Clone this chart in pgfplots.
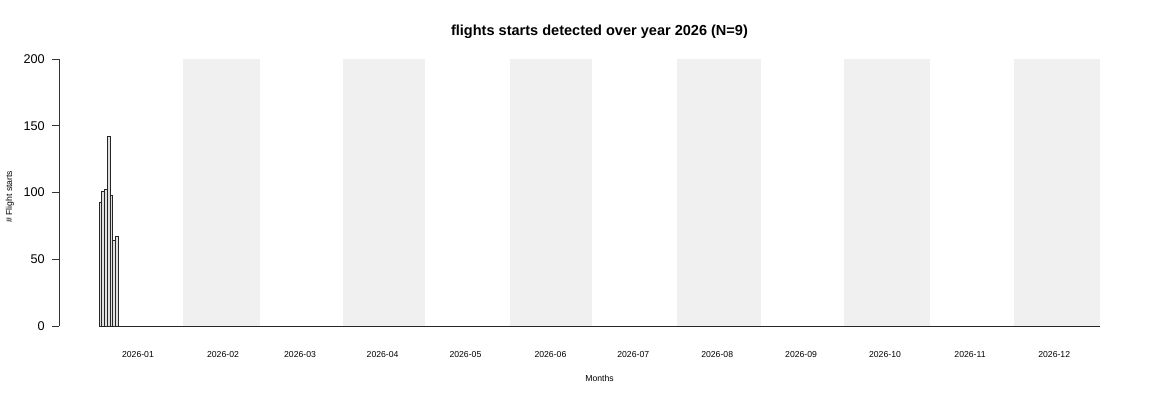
\documentclass[border=0pt]{standalone}
\usepackage{fontspec}
\setmainfont{Liberation Sans}
\usepackage{pgfplots}
\pgfplotsset{compat=1.18}
\definecolor{band}{HTML}{F0F0F0}
\definecolor{barfill}{HTML}{E0E0E0}
\begin{document}
\begin{tikzpicture}
\useasboundingbox (-44.25pt,-55.5pt) rectangle (833.25pt,244.5pt);
\begin{axis}[
  at={(0pt,0pt)}, anchor=south west,
  scale only axis, width=780.75pt, height=200.25pt,
  xmin=-14.6, xmax=365, ymin=0, ymax=200,
  axis lines*=left,
  x axis line style={draw=none},
  y axis line style={black!80, line width=0.6pt},
  clip=false,
  /pgf/number format/assume math mode=true,
  ytick={0,50,100,150,200},
  tick align=outside,
  major tick length=5.25pt,
  ytick style={black!80, line width=0.6pt},
  xtick style={draw=none},
  yticklabel style={font=\fontsize{9.5}{11}\selectfont, anchor=east, inner sep=0pt, xshift=-5.25pt},
  xtick={14.2,45.2,73.3,103.4,133.6,164.6,194.8,225.4,256,286.6,317.6,348.3},
  xticklabels={2026-01,2026-02,2026-03,2026-04,2026-05,2026-06,2026-07,2026-08,2026-09,2026-10,2026-11,2026-12},
  xticklabel style={font=\fontsize{6.5}{7.5}\selectfont, anchor=center, yshift=-16.5pt},
  xlabel={Months},
  xlabel style={font=\fontsize{6.5}{7.5}\selectfont, at={(axis description cs:0.5192,0)}, anchor=center, yshift=-39pt},
  ylabel={\# Flight starts},
  ylabel style={font=\fontsize{6.5}{7.5}\selectfont, at={(axis description cs:0,0.484)}, anchor=center, yshift=36.75pt},
  title={flights starts detected over year 2026 (N=9)},
  title style={font=\bfseries\fontsize{10.9}{12.5}\selectfont, at={(axis description cs:0.5192,1)}, anchor=center, yshift=14.25pt},
]
\addplot[fill=band, draw=none] coordinates {(30.74,0) (58.72,0) (58.72,200) (30.74,200)} -- cycle;
\addplot[fill=band, draw=none] coordinates {(88.88,0) (118.89,0) (118.89,200) (88.88,200)} -- cycle;
\addplot[fill=band, draw=none] coordinates {(149.89,0) (179.69,0) (179.69,200) (149.89,200)} -- cycle;
\addplot[fill=band, draw=none] coordinates {(210.69,0) (241.43,0) (241.43,200) (210.69,200)} -- cycle;
\addplot[fill=band, draw=none] coordinates {(271.7,0) (303.06,0) (303.06,200) (271.7,200)} -- cycle;
\addplot[fill=band, draw=none] coordinates {(333.5,0) (365,0) (365,200) (333.5,200)} -- cycle;
\addplot[black!85, line width=0.6pt] coordinates {(0,0) (365,0)};
\addplot[ybar interval, fill=barfill, draw=black!85, line width=0.5pt] coordinates {
(0,93) (1,101) (2,102) (3,142) (4,98) (5,64) (6,67) (7,67)};
\end{axis}
\end{tikzpicture}
\end{document}
